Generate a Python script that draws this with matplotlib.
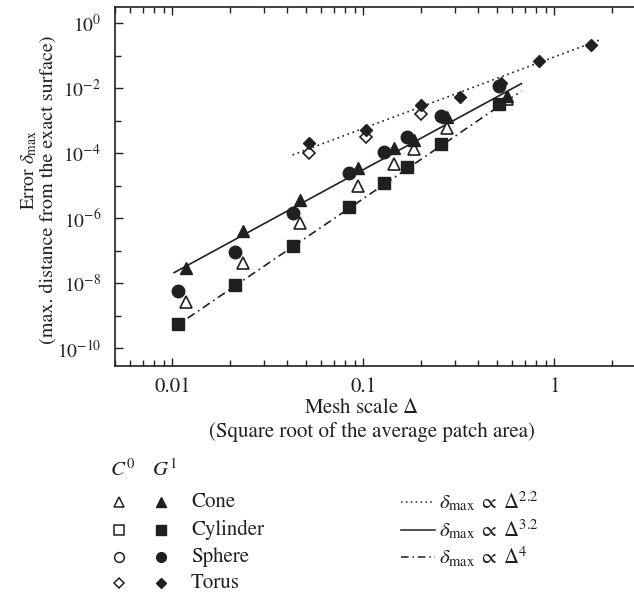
import numpy as np
import matplotlib
matplotlib.use('Agg')
import matplotlib.pyplot as plt
from matplotlib.ticker import FixedLocator, LogLocator, NullFormatter, FixedFormatter

plt.rcParams['font.family'] = ['STIXGeneral', 'DejaVu Serif']
plt.rcParams['mathtext.fontset'] = 'stix'

ink = '#231f20'

# data
cone_x = [0.01175, 0.0235, 0.0466, 0.0937, 0.144, 0.183, 0.275, 0.562]
cone_g1 = [2.9e-8, 4.15e-7, 3.66e-6, 3.45e-5, 1.46e-4, 2.57e-4, 1.28e-3, 5.8e-3]
cone_c0 = [2.7e-9, 4.3e-8, 7.0e-7, 1.0e-5, 4.7e-5, 1.36e-4, 5.9e-4, 4.6e-3]

sph_x = [0.0107, 0.0213, 0.0425, 0.0841, 0.128, 0.170, 0.254, 0.513]
sph_g1 = [5.9e-9, 9.4e-8, 1.43e-6, 2.4e-5, 1.12e-4, 3.24e-4, 1.4e-3, 1.18e-2]

cyl_x = [0.0107, 0.0213, 0.0425, 0.0841, 0.128, 0.170, 0.254, 0.513]
cyl_g1 = [5.6e-10, 8.9e-9, 1.43e-7, 2.28e-6, 1.25e-5, 3.87e-5, 1.93e-4, 3.2e-3]

tor_x = [0.0519, 0.1028, 0.1995, 0.319, 0.524, 0.830, 1.55]
tor_g1 = [2.03e-4, 5.2e-4, 3.06e-3, 5.3e-3, 1.46e-2, 0.069, 0.215]
tor_c0_x = [0.0519, 0.1028, 0.1995]
tor_c0 = [1.04e-4, 3.24e-4, 1.58e-3]

# power law guide lines: delta = c * Delta^p
fit_exp = [2.2, 3.2, 4]
fit_coef = [0.0925, 0.05, 0.0405]
fit_xmin = [0.0425, 0.0102, 0.012]
fit_xmax = [1.71, 0.671, 0.671]
fit_style = [(0, (1, 2.2)), '-', (0, (5, 2.5, 1, 2.5))]

fig = plt.figure(figsize=(6.34, 5.94), dpi=100)
ax = fig.add_axes([115/634, 1-365.7/594, 530.6/634, 358.4/594])
ax.set_xscale('log')
ax.set_yscale('log')
ax.set_xlim(0.005, 3)
ax.set_ylim(2.9e-11, 3.1)

for p, c, x0, x1, ls in zip(fit_exp, fit_coef, fit_xmin, fit_xmax, fit_style):
    xs = np.array([x0, x1])
    ax.plot(xs, c * xs**p, color=ink, lw=1.2, ls=ls, zorder=1)

ax.plot(cone_x, cone_c0, ls='none', marker='^', ms=8.5, mfc='white', mec=ink, mew=1.2, zorder=2)
ax.plot(tor_c0_x, tor_c0, ls='none', marker='D', ms=6.5, mfc='white', mec=ink, mew=1.2, zorder=2)
ax.plot(cyl_x, cyl_g1, ls='none', marker='s', ms=8.5, color=ink, zorder=3)
ax.plot(tor_x, tor_g1, ls='none', marker='D', ms=6.5, color=ink, zorder=3)
ax.plot(cone_x, cone_g1, ls='none', marker='^', ms=8.5, color=ink, zorder=3)
ax.plot(sph_x, sph_g1, ls='none', marker='o', ms=9, color=ink, zorder=4)

# ticks
ax.xaxis.set_major_locator(FixedLocator([0.01, 0.1, 1]))
ax.xaxis.set_major_formatter(FixedFormatter(['0.01', '0.1', '1']))
ax.xaxis.set_minor_locator(LogLocator(base=10, subs=np.arange(2, 10), numticks=20))
ax.xaxis.set_minor_formatter(NullFormatter())
yt = [10.0**k for k in range(0, -11, -2)]
ax.yaxis.set_major_locator(FixedLocator(yt))
ax.yaxis.set_major_formatter(FixedFormatter([r'$10^{%d}$' % k for k in range(0, -11, -2)]))
ax.yaxis.set_minor_locator(FixedLocator([10.0**k for k in range(-1, -11, -2)]))
ax.yaxis.set_minor_formatter(NullFormatter())
ax.tick_params(which='both', direction='in', top=True, right=False, width=1, colors=ink)
ax.tick_params(which='major', length=6)
ax.tick_params(which='minor', length=4)
ax.tick_params(axis='x', which='major', pad=8, labelsize=15)
ax.tick_params(axis='y', which='major', pad=10, labelsize=14)
for s in ax.spines.values():
    s.set_linewidth(1.2)
    s.set_color(ink)

fs = 15
# axis titles
fig.text(29/634, 1-170/594, r'Error $\delta_{\max}$', rotation=90, ha='center', va='center', fontsize=14, color=ink)
fig.text(49/634, 1-190/594, '(max. distance from the exact surface)', rotation=90, ha='center', va='center', fontsize=14.5, color=ink)
fig.text(361/634, 1-408/594, r'Mesh scale $\Delta$', ha='center', va='center', fontsize=fs, color=ink)
fig.text(372/634, 1-432/594, '(Square root of the average patch area)', ha='center', va='center', fontsize=fs, color=ink)

# legend drawn in a pixel-space overlay
lg = fig.add_axes([0, 0, 1, 1], facecolor='none')
lg.set_xlim(0, 634)
lg.set_ylim(594, 0)
lg.axis('off')

names = ['Cone', 'Cylinder', 'Sphere', 'Torus']
marks = ['^', 's', 'o', 'D']
sizes = [6.5, 6.5, 7, 5]
rows = [502, 530, 557, 583]
lg.text(123, 470, r'$C^0$', ha='center', va='center', fontsize=fs, color=ink)
lg.text(164, 470, r'$G^1$', ha='center', va='center', fontsize=fs, color=ink)
for n, m, ms, r in zip(names, marks, sizes, rows):
    lg.plot([119], [r], marker=m, ms=ms, mfc='white', mec=ink, mew=1.1, ls='none')
    lg.plot([161], [r], marker=m, ms=ms, color=ink, ls='none')
    lg.text(191, r, n, ha='left', va='center', fontsize=fs, color=ink)

for p, ls, r in zip(fit_exp, fit_style, rows):
    lg.plot([401, 435], [r, r], color=ink, lw=1.1, ls=ls)
    lg.text(439, r, r'$\delta_{\max}\;\propto\;\Delta^{%g}$' % p, ha='left', va='center', fontsize=fs, color=ink)

fig.savefig('out.png', dpi=100)
